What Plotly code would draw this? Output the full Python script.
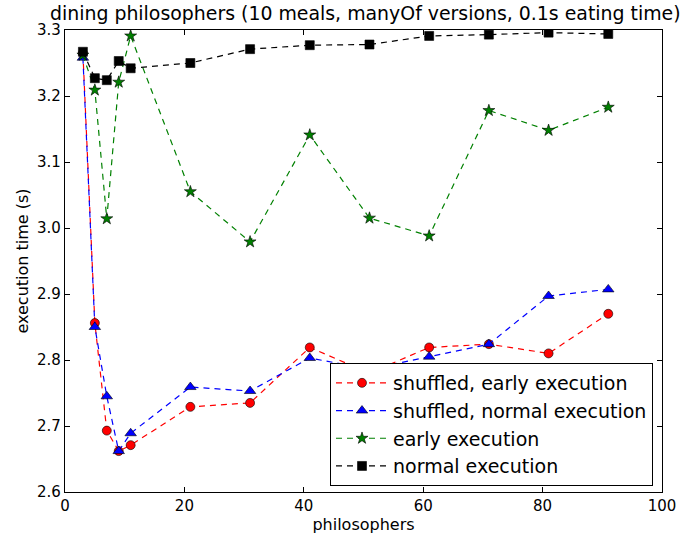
import plotly.graph_objects as go

philosophers = [3, 5, 7, 9, 11, 21, 31, 41, 51, 61, 71, 81, 91]
shuffled_early = [3.265, 2.856, 2.693, 2.662, 2.671, 2.729, 2.735, 2.819, 2.780, 2.819, 2.824, 2.810, 2.870]
shuffled_normal = [3.258, 2.850, 2.745, 2.662, 2.689, 2.759, 2.753, 2.803, 2.786, 2.805, 2.824, 2.897, 2.907]
early = [3.262, 3.209, 3.014, 3.221, 3.291, 3.055, 2.979, 3.141, 3.015, 2.988, 3.178, 3.148, 3.183]
normal = [3.267, 3.227, 3.224, 3.253, 3.242, 3.250, 3.271, 3.277, 3.278, 3.291, 3.293, 3.296, 3.294]

series = [
    ("shuffled, early execution", shuffled_early, "#ff0000", "circle", 9),
    ("shuffled, normal execution", shuffled_normal, "#0000ff", "triangle-up", 10),
    ("early execution", early, "#008000", "star", 9),
    ("normal execution", normal, "#000000", "square", 9),
]

fig = go.Figure()
for name, vals, color, sym, size in series:
    fig.add_trace(go.Scatter(
        x=philosophers, y=vals, name=name, mode="lines+markers",
        line=dict(color=color, width=1.2, dash="6px,5px"),
        marker=dict(symbol=sym, size=size, color=color, line=dict(color="black", width=0.6)),
    ))

axis_common = dict(
    showline=True, linecolor="black", linewidth=1.3, mirror="ticks",
    ticks="inside", ticklen=5, tickcolor="black", showgrid=False, zeroline=False,
    automargin=False,
    tickfont=dict(family="DejaVu Sans", size=15, color="black"),
)

fig.update_layout(
    width=689, height=538,
    margin=dict(l=65, r=27, t=30, b=46, autoexpand=False),
    paper_bgcolor="white", plot_bgcolor="white",
    title=dict(text="dining philosophers (10 meals, manyOf versions, 0.1s eating time)",
               x=0.503, xanchor="center", xref="paper", y=1 - 13 / 538, yref="container",
               yanchor="middle", automargin=False,
               font=dict(family="DejaVu Sans", size=18.9, color="black")),
    xaxis=dict(range=[0, 100], tickvals=[0, 20, 40, 60, 80, 100],
               title=dict(text="philosophers", font=dict(family="DejaVu Sans", size=16, color="black"), standoff=2),
               **axis_common),
    yaxis=dict(range=[2.6, 3.3], tickvals=[2.6, 2.7, 2.8, 2.9, 3.0, 3.1, 3.2, 3.3],
               ticktext=["2.6", "2.7", "2.8", "2.9", "3.0", "3.1", "3.2", "3.3"],
               title=dict(text="execution time (s)", font=dict(family="DejaVu Sans", size=16, color="black"), standoff=4),
               **axis_common),
    legend=dict(x=(653 - 65) / 597, xanchor="right", y=(492 - 486) / 462, yanchor="bottom",
                bgcolor="white", bordercolor="black", borderwidth=1,
                font=dict(family="DejaVu Sans", size=19, color="black"),
                tracegroupgap=0, itemwidth=52),
    showlegend=True,
)

fig.write_html("out.html", config={"displayModeBar": False},
               post_script="document.body.style.margin='0';document.body.style.padding='0';")
